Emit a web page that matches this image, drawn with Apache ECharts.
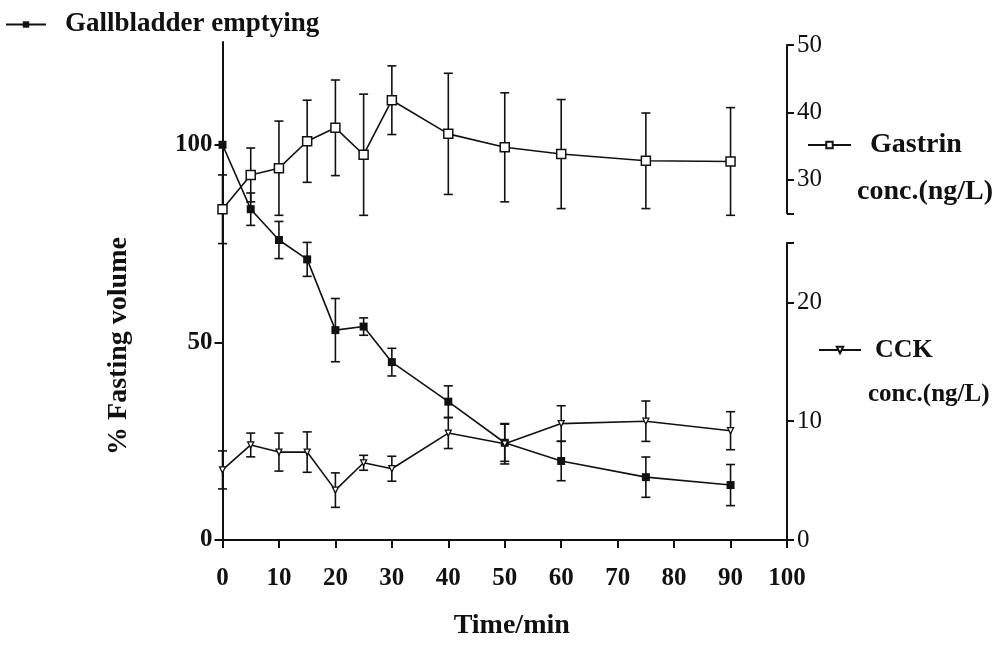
<!DOCTYPE html>
<html>
<head>
<meta charset="utf-8">
<script src="https://cdn.jsdelivr.net/npm/echarts@6/dist/echarts.min.js"></script>
<style>html,body{margin:0;padding:0;background:#fff}#c{width:1000px;height:647px}</style>
</head>
<body>
<div id="c"></div>
<script>
const times = [0, 5, 10, 15, 20, 25, 30, 40, 50, 60, 75, 90];
const gbMean = [100, 83.7, 75.9, 71.0, 53.1, 54.0, 45.0, 35.0, 24.6, 20.0, 15.9, 13.9];
const gbErr  = [0, 4.1, 4.7, 4.3, 8.0, 2.2, 3.5, 4.0, 4.7, 5.0, 5.1, 5.2];
const gaMean = [25.6, 30.7, 31.7, 35.7, 37.7, 33.7, 41.8, 36.8, 34.8, 33.8, 32.8, 32.7];
const gaErr  = [5.1, 4.0, 7.0, 6.1, 7.1, 9.0, 5.1, 9.0, 8.1, 8.1, 7.1, 8.0];
const ckMean = [5.9, 8.0, 7.4, 7.4, 4.2, 6.5, 6.0, 9.0, 8.1, 9.8, 10.0, 9.2];
const ckErr  = [1.6, 1.0, 1.6, 1.7, 1.45, 0.63, 1.05, 1.3, 1.7, 1.5, 1.7, 1.6];
const xTicks = [0, 10, 20, 30, 40, 50, 60, 70, 80, 90, 100];
const leftTicks = [0, 50, 100];
const gaTicks = [25, 30, 40, 50];
const gaLabels = [30, 40, 50];
const ckTicks = [0, 10, 20, 25];
const ckLabels = [0, 10, 20];

const INK = '#111';
const FONT = '"Liberation Serif", "Times New Roman", serif';

function pairs(m) { return times.map((t, i) => [t, m[i]]); }
function errData(m, e) { return times.map((t, i) => [t, m[i] - e[i], m[i] + e[i]]); }
function errRender(params, api) {
  const x = api.value(0), lo = api.value(1), hi = api.value(2);
  if (hi === lo) return null;
  const p1 = api.coord([x, hi]), p2 = api.coord([x, lo]);
  const w = 4.5;
  const st = { stroke: INK, lineWidth: 1.6 };
  return { type: 'group', children: [
    { type: 'line', shape: { x1: p1[0], y1: p1[1], x2: p2[0], y2: p2[1] }, style: st },
    { type: 'line', shape: { x1: p1[0] - w, y1: p1[1], x2: p1[0] + w, y2: p1[1] }, style: st },
    { type: 'line', shape: { x1: p2[0] - w, y1: p2[1], x2: p2[0] + w, y2: p2[1] }, style: st }
  ]};
}

const L = 222.5, R = 1000 - 787;
const axLine = { show: true, onZero: false, lineStyle: { color: INK, width: 2 } };

const chart = echarts.init(document.getElementById('c'));
chart.setOption({
  backgroundColor: '#fff',
  animation: false,
  grid: [
    { left: L, right: R, top: 42, bottom: 107 },
    { left: L, right: R, top: 45, height: 168.3 },
    { left: L, right: R, top: 243, bottom: 107 }
  ],
  xAxis: [
    { gridIndex: 0, type: 'value', min: 0, max: 100, interval: 10,
      axisLine: axLine, splitLine: { show: false },
      axisTick: { show: true, inside: false, length: 8, lineStyle: { color: INK, width: 2 }, customValues: xTicks },
      axisLabel: { color: INK, fontFamily: FONT, fontWeight: 'bold', fontSize: 25, margin: 26, customValues: xTicks },
      name: 'Time/min', nameLocation: 'middle', nameGap: 72,
      nameTextStyle: { color: INK, fontFamily: FONT, fontWeight: 'bold', fontSize: 28, padding: [0, 0, 0, 14] } },
    { gridIndex: 1, type: 'value', min: 0, max: 100, show: false },
    { gridIndex: 2, type: 'value', min: 0, max: 100, show: false }
  ],
  yAxis: [
    { gridIndex: 0, type: 'value', min: 0, max: 126, position: 'left',
      axisLine: axLine, splitLine: { show: false },
      axisTick: { show: true, inside: false, length: 8, lineStyle: { color: INK, width: 2 }, customValues: leftTicks },
      axisLabel: { color: INK, fontFamily: FONT, fontWeight: 'bold', fontSize: 25, margin: 10, customValues: leftTicks },
      name: '% Fasting volume', nameLocation: 'middle', nameGap: 90, nameRotate: 90,
      nameTextStyle: { color: INK, fontFamily: FONT, fontWeight: 'bold', fontSize: 28, padding: [0, 110, 0, 0] } },
    { gridIndex: 1, type: 'value', min: 25, max: 50, position: 'right',
      axisLine: axLine, splitLine: { show: false },
      axisTick: { show: true, inside: false, length: 7, lineStyle: { color: INK, width: 2 }, customValues: gaTicks },
      axisLabel: { color: INK, fontFamily: FONT, fontSize: 25, margin: 10, customValues: gaLabels } },
    { gridIndex: 2, type: 'value', min: 0, max: 25, position: 'right',
      axisLine: axLine, splitLine: { show: false },
      axisTick: { show: true, inside: false, length: 7, lineStyle: { color: INK, width: 2 }, customValues: ckTicks },
      axisLabel: { color: INK, fontFamily: FONT, fontSize: 25, margin: 10, customValues: ckLabels } }
  ],
  legend: [
    { data: ['Gallbladder emptying'], left: 5, top: 11, padding: 0, itemWidth: 40, itemHeight: 8, itemGap: 0,
      textStyle: { color: INK, fontFamily: FONT, fontWeight: 'bold', fontSize: 27, padding: [0, 0, 0, 14] } },
    { data: ['Gastrin'], left: 807, top: 131, padding: 0, itemWidth: 43, itemHeight: 8,
      textStyle: { color: INK, fontFamily: FONT, fontWeight: 'bold', fontSize: 28, padding: [0, 0, 0, 14] } },
    { data: ['CCK'], left: 818, top: 337, padding: 0, itemWidth: 42, itemHeight: 8,
      textStyle: { color: INK, fontFamily: FONT, fontWeight: 'bold', fontSize: 26, padding: [0, 0, 0, 9] } }
  ],
  graphic: [
    { type: 'text', left: 857, top: 178, style: { text: 'conc.(ng/L)', fill: INK, font: 'bold 28px ' + FONT } },
    { type: 'text', left: 868, top: 382, style: { text: 'conc.(ng/L)', fill: INK, font: 'bold 25px ' + FONT } }
  ],
  series: [
    { type: 'custom', name: 'gbErr', xAxisIndex: 0, yAxisIndex: 0, renderItem: errRender, data: errData(gbMean, gbErr), z: 2, silent: true },
    { type: 'custom', name: 'gaErr', xAxisIndex: 1, yAxisIndex: 1, renderItem: errRender, data: errData(gaMean, gaErr), z: 2, silent: true },
    { type: 'custom', name: 'ckErr', xAxisIndex: 2, yAxisIndex: 2, renderItem: errRender, data: errData(ckMean, ckErr), z: 2, silent: true },
    { type: 'line', name: 'Gallbladder emptying', xAxisIndex: 0, yAxisIndex: 0, data: pairs(gbMean),
      symbol: 'rect', symbolSize: 8, lineStyle: { color: INK, width: 1.6 }, itemStyle: { color: INK }, z: 5 },
    { type: 'line', name: 'Gastrin', xAxisIndex: 1, yAxisIndex: 1, data: pairs(gaMean),
      symbol: 'rect', symbolSize: 9, lineStyle: { color: INK, width: 1.6 },
      itemStyle: { color: '#fff', borderColor: INK, borderWidth: 1.5 }, z: 5 },
    { type: 'line', name: 'CCK', xAxisIndex: 2, yAxisIndex: 2, data: pairs(ckMean),
      symbol: 'triangle', symbolRotate: 180, symbolSize: 6, lineStyle: { color: INK, width: 1.6 },
      itemStyle: { color: '#fff', borderColor: INK, borderWidth: 1.3 }, z: 5 }
  ]
});
</script>
</body>
</html>
